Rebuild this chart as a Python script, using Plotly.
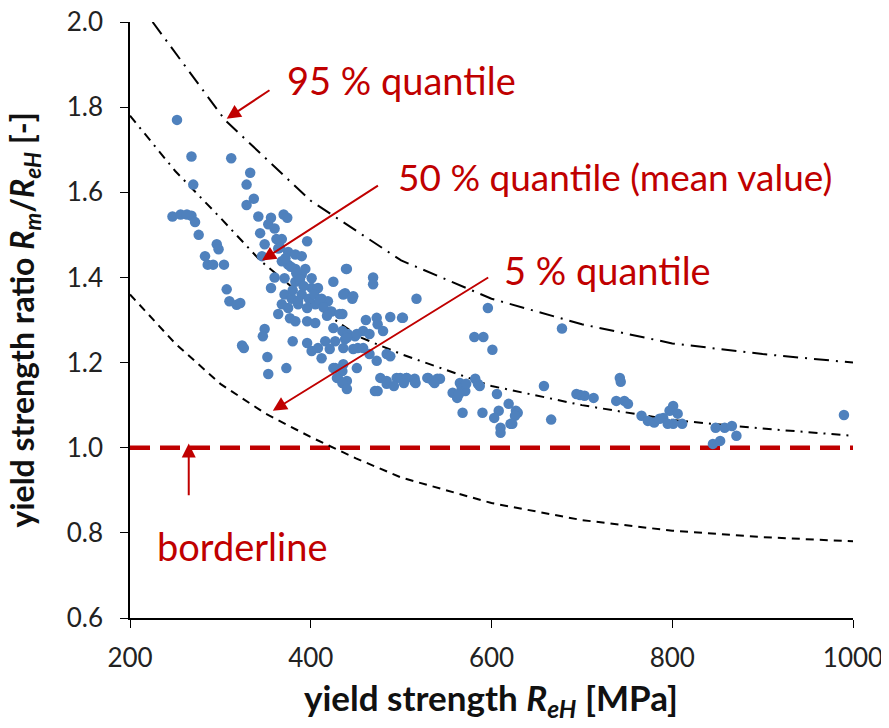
import plotly.graph_objects as go

# ---- data ----
x_pts = [252, 268, 270, 247, 256, 263, 268, 272, 276, 283, 286, 292, 296, 298, 304, 307, 310, 318, 324,
         312, 333, 329, 337, 329, 342, 356, 370, 374, 344, 353, 360, 349, 368, 396, 346,
         364, 375, 383, 390, 368, 375, 383, 394, 360, 371, 383, 390, 356, 401, 440, 425,
         371, 379, 390, 401, 408, 412, 419, 368, 375, 386, 396, 405, 364, 377, 383,
         396, 405, 423, 435, 438, 446, 425, 435, 441, 349, 347, 380,
         396, 401, 408, 412, 416, 427, 438, 449, 452, 326, 352, 353, 373, 427, 435, 430, 438, 322,
         436, 447, 421, 432, 461, 473, 488, 501, 474, 458, 465, 480, 440, 451, 421, 436, 447,
         458, 465, 473, 484, 488, 425, 436, 451, 429, 440, 471, 477, 484, 495, 506, 515, 529,
         517, 439, 469, 469, 502, 596, 581, 591, 601, 678,
         499, 506, 515, 530, 535, 540, 543, 557, 565, 567, 571, 562, 582, 585,
         435, 440, 474, 484, 492, 503, 516, 537, 564, 572, 587,
         568, 590, 606, 608, 619, 627, 610, 610, 621, 603, 629, 626, 623,
         658, 666, 703, 713, 698, 694, 738, 747, 751, 742, 743, 766,
         780, 790, 797, 801, 806, 811, 801, 773, 786, 795,
         848, 858, 866, 871, 845, 853, 990,
         362, 366, 372, 378, 384, 388, 392, 380, 386, 398, 404, 410, 414, 418]
y_pts = [1.77, 1.684, 1.618, 1.543, 1.548, 1.548, 1.545, 1.53, 1.50, 1.45, 1.43, 1.43, 1.478, 1.466, 1.43, 1.372, 1.344, 1.336, 1.24,
         1.68, 1.646, 1.618, 1.585, 1.57, 1.543, 1.54, 1.548, 1.54, 1.504, 1.525, 1.515, 1.478, 1.49, 1.485, 1.45,
         1.468, 1.46, 1.454, 1.45, 1.438, 1.43, 1.42, 1.42, 1.40, 1.398, 1.39, 1.407, 1.375, 1.398, 1.42, 1.39,
         1.36, 1.35, 1.36, 1.375, 1.375, 1.35, 1.344, 1.337, 1.328, 1.337, 1.328, 1.337, 1.314, 1.304, 1.297,
         1.297, 1.293, 1.32, 1.314, 1.363, 1.35, 1.281, 1.274, 1.267, 1.279, 1.262, 1.25,
         1.246, 1.227, 1.234, 1.21, 1.25, 1.25, 1.255, 1.262, 1.234, 1.234, 1.213, 1.173, 1.187, 1.187, 1.18, 1.164, 1.15, 1.34,
         1.36, 1.356, 1.32, 1.314, 1.30, 1.305, 1.307, 1.305, 1.29, 1.274, 1.267, 1.274, 1.258, 1.267, 1.232, 1.234, 1.232,
         1.234, 1.22, 1.204, 1.22, 1.215, 1.187, 1.196, 1.187, 1.164, 1.157, 1.133, 1.164, 1.157, 1.164, 1.164, 1.162, 1.164,
         1.35, 1.42, 1.40, 1.384, 1.305, 1.328, 1.26, 1.26, 1.23, 1.28,
         1.164, 1.164, 1.155, 1.164, 1.157, 1.162, 1.162, 1.129, 1.152, 1.14, 1.133, 1.117, 1.162, 1.15,
         1.152, 1.138, 1.133, 1.15, 1.145, 1.152, 1.152, 1.152, 1.126, 1.15, 1.145,
         1.082, 1.082, 1.126, 1.087, 1.103, 1.087, 1.047, 1.035, 1.056, 1.07, 1.082, 1.075, 1.056,
         1.145, 1.066, 1.122, 1.117, 1.124, 1.126, 1.11, 1.11, 1.103, 1.164, 1.155, 1.075,
         1.059, 1.07, 1.087, 1.098, 1.08, 1.056, 1.056, 1.063, 1.068, 1.056,
         1.047, 1.047, 1.051, 1.028, 1.009, 1.016, 1.077,
         1.49, 1.47, 1.445, 1.425, 1.41, 1.395, 1.38, 1.37, 1.345, 1.35, 1.36, 1.345, 1.33, 1.31]

q95_x = [225, 305, 400, 500, 600, 700, 800, 900, 1000]
q95_y = [2.0, 1.77, 1.58, 1.44, 1.35, 1.29, 1.245, 1.22, 1.20]
q50_x = [200, 250, 300, 344, 400, 454, 500, 600, 700, 800, 900, 1000]
q50_y = [1.78, 1.65, 1.54, 1.44, 1.34, 1.26, 1.22, 1.145, 1.10, 1.065, 1.045, 1.028]
q05_x = [200, 250, 300, 350, 400, 450, 500, 600, 700, 800, 900, 1000]
q05_y = [1.36, 1.245, 1.15, 1.08, 1.025, 0.975, 0.93, 0.87, 0.83, 0.805, 0.79, 0.78]
border_x = [200, 1000]
border_y = [1.0, 1.0]

x_ticks = [200, 400, 600, 800, 1000]
y_ticks = [0.6, 0.8, 1.0, 1.2, 1.4, 1.6, 1.8, 2.0]

RED = "#C00000"
FONT = "Lato"

fig = go.Figure()
fig.add_trace(go.Scatter(x=border_x, y=border_y, mode="lines",
                         line=dict(color=RED, width=4.5, dash="20px,10px"), showlegend=False))
fig.add_trace(go.Scatter(x=q95_x, y=q95_y, mode="lines",
                         line=dict(color="black", width=2, dash="15px,7px,2px,7px"), showlegend=False))
fig.add_trace(go.Scatter(x=q50_x, y=q50_y, mode="lines",
                         line=dict(color="black", width=2, dash="9px,6px,2px,6px"), showlegend=False))
fig.add_trace(go.Scatter(x=q05_x, y=q05_y, mode="lines",
                         line=dict(color="black", width=2, dash="8px,6px"), showlegend=False))
fig.add_trace(go.Scatter(x=x_pts, y=y_pts, mode="markers",
                         marker=dict(color="#4F81BD", size=10.5), showlegend=False))

def label(text, x, y, size=38):
    fig.add_annotation(x=x, y=y, xref="x", yref="y", text=text, showarrow=False,
                       xanchor="left", yanchor="middle",
                       font=dict(family=FONT, size=size, color=RED))

def arrow(x0, y0, x1, y1):
    fig.add_annotation(x=x1, y=y1, ax=x0, ay=y0, xref="x", yref="y", axref="x", ayref="y",
                       text="", showarrow=True, arrowhead=2, arrowsize=1.4, arrowwidth=2,
                       arrowcolor=RED)

label("95 % quantile", 372, 1.864)
arrow(356, 1.842, 307, 1.773)
label("50 % quantile (mean value)", 494, 1.637, size=37)
arrow(476, 1.618, 346, 1.44)
label("5 % quantile", 612, 1.418)
arrow(598, 1.402, 358, 1.087)
label("borderline", 228, 0.768)
arrow(265, 0.885, 265, 1.01)

# axis titles
fig.add_annotation(xref="paper", yref="paper", x=-0.146, y=0.5, textangle=-90, showarrow=False,
                   xanchor="center", yanchor="middle",
                   text="<b>yield strength ratio <i>R</i><sub><i>m</i></sub>/<i>R</i><sub><i>eH</i></sub> [-]</b>",
                   font=dict(family=FONT, size=32, color="#111111"))
fig.add_annotation(xref="paper", yref="paper", x=0.499, y=-0.137, showarrow=False,
                   xanchor="center", yanchor="middle",
                   text="<b>yield strength <i>R</i><sub><i>eH</i></sub> [MPa]</b>",
                   font=dict(family=FONT, size=35, color="#111111"))

fig.update_layout(
    width=889, height=728,
    margin=dict(l=122, r=44, t=14, b=118, autoexpand=False),
    plot_bgcolor="white", paper_bgcolor="white",
    font=dict(family=FONT, color="#222222"),
)
fig.update_xaxes(range=[200, 1000], tickvals=x_ticks, showline=True, linecolor="black", linewidth=1.5,
                 ticks="outside", ticklen=8, tickcolor="black", showgrid=False, zeroline=False,
                 ticklabelstandoff=8, ticklabeloverflow="allow", automargin=False,
                 tickfont=dict(family=FONT, size=26, color="#222222"))
fig.update_yaxes(range=[0.6, 2.0], tickvals=y_ticks, tickformat=".1f", showline=True, linecolor="black",
                 linewidth=1.5, ticks="outside", ticklen=8, tickcolor="black", showgrid=False, zeroline=False,
                 ticklabelstandoff=12, ticklabeloverflow="allow", automargin=False,
                 tickfont=dict(family=FONT, size=26, color="#222222"))

fig.write_html("out.html")
